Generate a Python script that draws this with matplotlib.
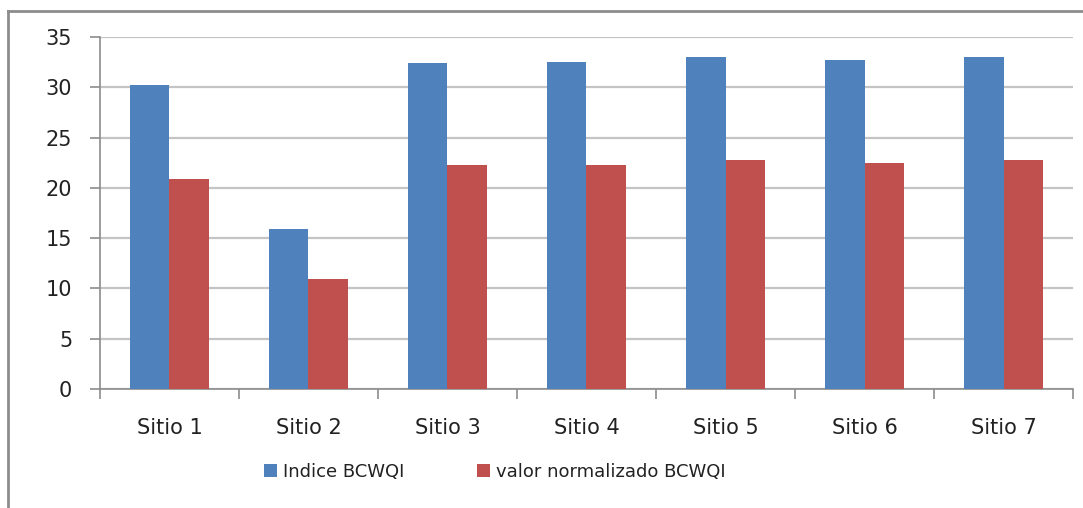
import numpy as np
import matplotlib
matplotlib.use("Agg")
import matplotlib.pyplot as plt
from matplotlib.lines import Line2D

sitios = ["Sitio 1", "Sitio 2", "Sitio 3", "Sitio 4", "Sitio 5", "Sitio 6", "Sitio 7"]
indice = [30.2, 15.9, 32.4, 32.5, 33.0, 32.7, 33.0]
normalizado = [20.9, 10.9, 22.3, 22.3, 22.8, 22.5, 22.8]
serie_nombres = ["Indice BCWQI", "valor normalizado BCWQI"]

azul = "#4F81BD"
rojo = "#C0504D"
gris = "#8C8C8C"
texto = "#222222"

fig = plt.figure(figsize=(10.83, 5.08), dpi=100)
ax = fig.add_axes([0.0923, 0.2343, 0.8985, 0.6929])

x = np.arange(len(sitios))
w = 0.285
ax.bar(x - w / 2, indice, w, color=azul, label=serie_nombres[0], zorder=3)
ax.bar(x + w / 2, normalizado, w, color=rojo, label=serie_nombres[1], zorder=3)

ax.set_xlim(-0.5, len(sitios) - 0.5)
ax.set_ylim(0, 35)
ax.set_yticks(np.arange(0, 36, 5))
ax.yaxis.grid(True, color="#C4C4C4", linewidth=1.6, zorder=0)

# labels sit at the centres, tick marks at the category boundaries
ax.set_xticks(x)
ax.set_xticklabels(sitios)
ax.set_xticks(np.arange(-0.5, len(sitios)), minor=True)
ax.tick_params(axis="x", which="major", length=0, pad=21, labelsize=15, labelcolor=texto)
ax.tick_params(axis="x", which="minor", length=7, width=1.2, color=gris, direction="out")
ax.tick_params(axis="y", length=7, width=1.2, color=gris, pad=13, labelsize=15, labelcolor=texto)

for side in ["top", "right"]:
    ax.spines[side].set_visible(False)
for side in ["left", "bottom"]:
    ax.spines[side].set_color(gris)
    ax.spines[side].set_linewidth(1.2)

leg = fig.legend(loc="center", bbox_to_anchor=(0.457, 0.071), ncol=2, frameon=False,
                 fontsize=13, handlelength=0.7, handleheight=0.7, handletextpad=0.35,
                 columnspacing=4.0)
for t in leg.get_texts():
    t.set_color(texto)

# chart frame
fig.add_artist(Line2D([0.0074, 0.0074], [0.0, 0.978], transform=fig.transFigure,
                      color=gris, linewidth=2))
fig.add_artist(Line2D([0.0074, 1.0], [0.978, 0.978], transform=fig.transFigure,
                      color=gris, linewidth=2))

fig.savefig("out.png", dpi=100)
